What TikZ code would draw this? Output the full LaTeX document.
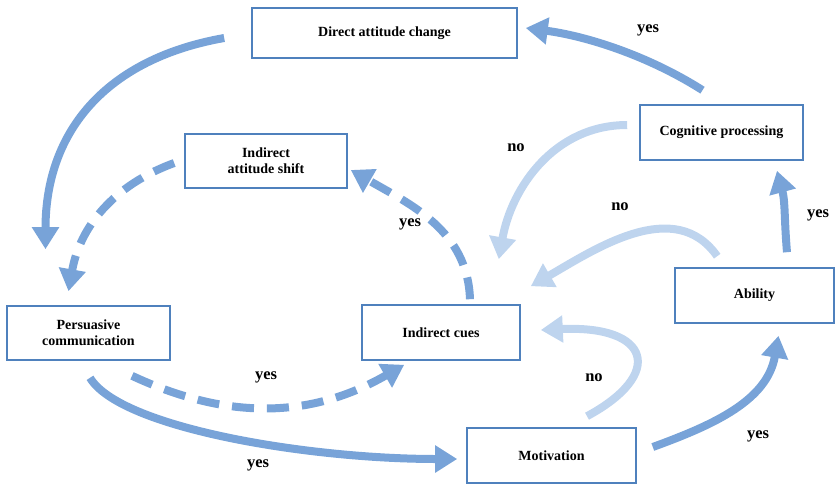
\documentclass[tikz,border=0pt]{standalone}
\usepackage{fontspec}
\setmainfont{Liberation Serif}
\usetikzlibrary{arrows.meta,calc}
\definecolor{boxblue}{RGB}{79,129,189}
\definecolor{arrblue}{RGB}{120,163,216}
\definecolor{arrlight}{RGB}{190,212,238}
\begin{document}
\begin{tikzpicture}[x=1pt,y=1pt,
  box/.style={draw=boxblue,line width=1.6pt,fill=white,align=center,
    font=\fontsize{14}{16}\selectfont\bfseries,inner sep=0pt},
  lab/.style={font=\fontsize{16.5}{18}\selectfont\bfseries},
  bigarrow/.style={draw=arrblue,line width=8pt,-{Triangle[width=26pt,length=22pt]}},
  dasharrow/.style={bigarrow,dash pattern=on 22pt off 13pt},
  lightarrow/.style={bigarrow,draw=arrlight}]
\useasboundingbox (0,0) rectangle (836,-485);

\node[box,minimum width=265pt,minimum height=50pt] (dac) at (384.5,-33) {Direct attitude change};
\node[box,minimum width=162pt,minimum height=54pt] (ias) at (266,-161) {Indirect\\attitude shift};
\node[box,minimum width=163pt,minimum height=55pt] (cog) at (721.5,-132.5) {Cognitive processing};
\node[box,minimum width=159pt,minimum height=55pt] (abil) at (754.5,-295.5) {Ability};
\node[box,minimum width=163pt,minimum height=54pt] (pc) at (88.5,-333) {Persuasive\\communication};
\node[box,minimum width=158pt,minimum height=55pt] (ic) at (441,-332.5) {Indirect cues};
\node[box,minimum width=169pt,minimum height=55pt] (mot) at (551.5,-455.5) {Motivation};

% solid yes arrows
\draw[bigarrow] ([shift={(-19,14)}]cog.north) .. controls +(-55,35) and +(60,-8) .. ([shift={(8,5)}]dac.east);
\draw[bigarrow] ([shift={(-27,-5)}]dac.west) to[out=190,in=90,looseness=1.1] ([shift={(-43,56)}]pc.north);
\draw[bigarrow] ([shift={(1.5,-17)}]pc.south) .. controls +(30,-50) and +(-150,0) .. ([shift={(-9,-3.5)}]mot.west);
\draw[bigarrow] ([shift={(16,8.5)}]mot.east) to[out=20,in=-100] ([shift={(24,-12)}]abil.south);
\draw[bigarrow] ([shift={(32.5,15)}]abil.north) to[out=95,in=-75] ([shift={(55.5,-10)}]cog.south);

% dashed arrows
\draw[dasharrow] ([shift={(-10,-2)}]ias.west) to[out=200,in=80] ([shift={(-20,14)}]pc.north);
\draw[dasharrow] ([shift={(29,5)}]ic.north) to[out=92,in=-30] ([shift={(3,-9)}]ias.east);
\draw[dasharrow] ([shift={(43.5,-15)}]pc.south) to[out=-25,in=210] ([shift={(43,-4)}]ic.south west);

% light no arrows
\draw[lightarrow] ([shift={(-12,7.5)}]cog.west) to[out=180,in=80] ([shift={(-22,45)}]ic.north east);
\draw[lightarrow] ([shift={(43,11)}]abil.north west) to[out=125,in=30] ([shift={(10,18)}]ic.north east);
\draw[lightarrow] ([shift={(35.5,11)}]mot.north) .. controls +(78,42) and +(110,5) .. ([shift={(20,2.5)}]ic.east);

% labels
\node[lab] (l1) at (648,-30) {yes};
\node[lab] (l2) at (516,-148) {no};
\node[lab] (l3) at (620,-207) {no};
\node[lab] (l4) at (410,-224) {yes};
\node[lab] (l5) at (818,-215) {yes};
\node[lab] (l6) at (594,-378) {no};
\node[lab] (l7) at (266,-377) {yes};
\node[lab] (l8) at (258,-465) {yes};
\node[lab] (l9) at (758,-436) {yes};
\end{tikzpicture}
\end{document}
